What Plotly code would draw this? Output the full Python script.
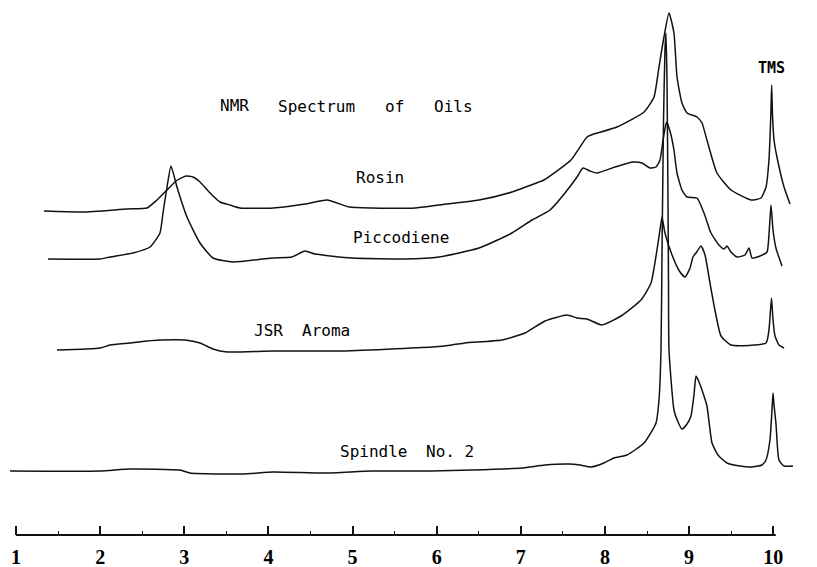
import plotly.graph_objects as go

# ---- data (ppm-like scale, arbitrary intensity) ----
rosin_ppm = [1.333, 1.796, 2.319, 2.557, 2.676, 2.795, 2.902, 3.020, 3.104, 3.187, 3.306, 3.425,
             3.544, 3.662, 4.055, 4.435, 4.696, 4.958, 5.231, 5.742, 6.027, 6.503, 6.895, 7.216,
             7.275, 7.596, 7.786, 7.834, 8.143, 8.464, 8.583, 8.642, 8.701, 8.761, 8.820, 8.856,
             8.915, 8.975, 9.094, 9.153, 9.212, 9.331, 9.498, 9.735, 9.854, 9.914, 9.949, 9.973,
             9.981, 9.991, 10.009, 10.044, 10.128, 10.199]
rosin_int = [-3, -4, -1, 0, 8, 18, 27, 32, 31, 26, 15, 6,
             3, 0, 0, 4, 8, 1, 0, 0, 3, 8, 16, 26,
             28, 48, 71, 73, 81, 96, 111, 141, 171, 195, 175, 131,
             105, 95, 91, 85, 68, 35, 18, 8, 10, 21, 48, 98,
             123, 93, 68, 51, 21, 4]

picco_ppm = [1.380, 1.998, 2.117, 2.391, 2.593, 2.711, 2.747, 2.795, 2.842, 2.913, 3.032, 3.187,
             3.341, 3.579, 4.043, 4.280, 4.435, 4.554, 4.993, 5.623, 6.027, 6.503, 6.895, 7.133,
             7.347, 7.525, 7.668, 7.739, 7.822, 7.905, 8.119, 8.333, 8.440, 8.535, 8.607, 8.654,
             8.690, 8.725, 8.737, 8.761, 8.785, 8.820, 8.856, 8.915, 8.975, 9.094, 9.177, 9.260,
             9.355, 9.415, 9.450, 9.498, 9.569, 9.664, 9.712, 9.748, 9.843, 9.926, 9.949, 9.973,
             9.997, 10.032, 10.104]
picco_int = [-1, -1, 1, 5, 11, 25, 45, 71, 92, 71, 41, 15,
             0, -4, 0, 1, 7, 4, 0, -1, 1, 10, 25, 38,
             48, 65, 81, 90, 87, 85, 91, 96, 95, 90, 91, 98,
             118, 134, 136, 130, 123, 108, 85, 68, 61, 60, 45, 25,
             13, 9, 12, 6, 1, 3, 10, 0, 2, 6, 23, 53,
             28, 10, -8]

jsr_ppm = [1.487, 1.998, 2.117, 2.355, 2.557, 2.711, 3.009, 3.187, 3.341, 3.508, 4.055, 4.839,
           5.944, 6.182, 6.336, 6.776, 7.049, 7.287, 7.549, 7.668, 7.786, 7.965, 8.190, 8.428,
           8.547, 8.618, 8.654, 8.678, 8.713, 8.797, 8.892, 8.951, 9.011, 9.046, 9.082, 9.141,
           9.189, 9.248, 9.307, 9.379, 9.498, 9.914, 9.949, 9.979, 9.997, 10.021, 10.068, 10.128]
jsr_int = [0, 2, 5, 7, 9, 10, 10, 7, 1, -2, -1, -1,
           3, 5, 7, 10, 17, 29, 35, 32, 31, 25, 34, 50,
           67, 100, 120, 133, 117, 95, 78, 73, 82, 93, 97, 104,
           95, 67, 40, 14, 5, 7, 20, 52, 30, 14, 5, 2]

spindle_ppm = [0.929, 1.998, 2.355, 2.949, 3.068, 3.698, 4.054, 4.672, 5.231, 5.944, 6.420, 7.014,
               7.287, 7.572, 7.703, 7.834, 7.988, 8.107, 8.262, 8.464, 8.607, 8.642, 8.666, 8.678,
               8.696, 8.713, 8.725, 8.737, 8.749, 8.755, 8.761, 8.820, 8.868, 8.915, 8.975, 9.022,
               9.058, 9.082, 9.118, 9.153, 9.212, 9.272, 9.343, 9.450, 9.605, 9.735, 9.866, 9.914,
               9.961, 9.985, 9.997, 10.009, 10.032, 10.068, 10.128, 10.235]
spindle_int = [-1, -1, 1, 0, -3, -4, -2, -3, -1, -1, 0, 2,
               5, 6, 5, 3, 7, 12, 15, 27, 47, 70, 120, 220,
               350, 420, 437, 390, 270, 187, 120, 60, 48, 41, 46, 54,
               75, 94, 88, 80, 64, 27, 15, 7, 4, 3, 5, 10,
               30, 60, 77, 65, 47, 10, 4, 4]

tick_vals = [1, 2, 3, 4, 5, 6, 7, 8, 9, 10]
tick_text = ["1", "2", "3", "4", "5", "6", "7", "8", "9", "10"]

# vertical stacking offsets of the spectra (layout, not data)
OFF = {"rosin": 327, "picco": 277, "jsr": 185, "spindle": 65}

fig = go.Figure()
line_style = dict(color="#111111", width=1.5, shape="spline", smoothing=0.5)
for ppm, inten, key in [(rosin_ppm, rosin_int, "rosin"), (picco_ppm, picco_int, "picco"),
                        (jsr_ppm, jsr_int, "jsr"), (spindle_ppm, spindle_int, "spindle")]:
    fig.add_trace(go.Scatter(x=ppm, y=[v + OFF[key] for v in inten], mode="lines",
                             line=line_style, hoverinfo="skip", showlegend=False))

lab_font = dict(family="DejaVu Sans Mono", size=16, color="#000000")
labels = [
    ("NMR", 3.591, 430), ("Spectrum", 4.577, 429), ("of", 5.498, 429), ("Oils", 6.194, 429),
    ("Rosin", 5.332, 358), ("Piccodiene", 5.570, 298),
    ("JSR", 4.001, 205), ("Aroma", 4.690, 205),
    ("Spindle", 5.249, 84), ("No. 2", 6.164, 84),
]
for txt, x, y in labels:
    fig.add_annotation(x=x, y=y, text=txt, showarrow=False, font=lab_font,
                       xanchor="center", yanchor="middle")
fig.add_annotation(x=9.979, y=467, text="<b>TMS</b>", showarrow=False,
                   font=dict(family="DejaVu Sans Mono", size=15, color="#000000"),
                   xanchor="center", yanchor="middle")

# axis baseline from 1 to 10
fig.add_shape(type="line", xref="x", yref="paper", x0=1, x1=10.03, y0=0, y1=0,
              line=dict(color="#111111", width=2))

fig.update_layout(
    width=817, height=567,
    margin=dict(l=0, r=0, t=0, b=32),
    paper_bgcolor="white", plot_bgcolor="white",
    xaxis=dict(range=[0.8098, 10.52], tickmode="array", tickvals=tick_vals, ticktext=tick_text,
               ticks="inside", ticklen=9, tickwidth=1.5, tickcolor="#111111",
               showline=False, showgrid=False, zeroline=False,
               ticklabelstandoff=8,
               tickfont=dict(family="Liberation Serif", size=20, color="#000000", weight="bold"),
               minor=dict(tickmode="array", tickvals=[1.5, 2.5, 3.5, 4.5, 5.5, 6.5, 7.5, 8.5, 9.5],
                          ticks="inside", ticklen=4, tickwidth=1.2, tickcolor="#111111")),
    yaxis=dict(range=[0, 535], visible=False, showgrid=False, zeroline=False),
)

fig.write_html("out.html")
